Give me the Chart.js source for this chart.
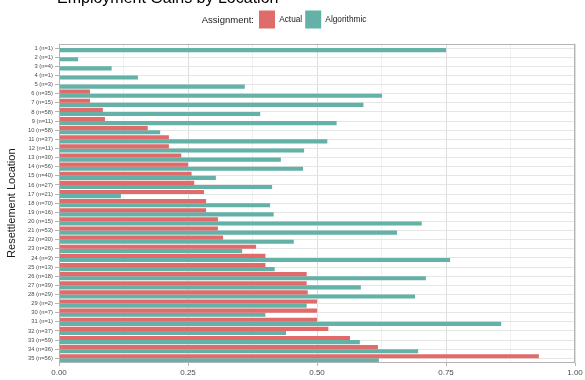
<!DOCTYPE html>
<html>
<head>
<meta charset="utf-8">
<script src="https://cdn.jsdelivr.net/npm/chart.js@4.4.0/dist/chart.umd.min.js"></script>
<style>
  body { margin: 0; background: #fff; }
  #wrap { width: 585px; height: 380px; }
</style>
</head>
<body>
<div id="wrap"><canvas id="myChart" width="585" height="380"></canvas></div>
<script>
// location labels (top to bottom)
const locations = [
  "1 (n=1)", "2 (n=1)", "3 (n=4)", "4 (n=1)", "5 (n=3)", "6 (n=35)", "7 (n=15)",
  "8 (n=58)", "9 (n=11)", "10 (n=58)", "11 (n=37)", "12 (n=11)", "13 (n=30)",
  "14 (n=56)", "15 (n=40)", "16 (n=27)", "17 (n=21)", "18 (n=70)", "19 (n=16)",
  "20 (n=15)", "21 (n=53)", "22 (n=30)", "23 (n=26)", "24 (n=3)", "25 (n=13)",
  "26 (n=18)", "27 (n=39)", "28 (n=29)", "29 (n=2)", "30 (n=7)", "31 (n=1)",
  "32 (n=37)", "33 (n=59)", "34 (n=36)", "35 (n=56)"
];
const actual = [
  0, 0, 0, 0, 0, 0.06, 0.06, 0.085, 0.089, 0.172, 0.213, 0.213, 0.237, 0.25,
  0.257, 0.262, 0.281, 0.285, 0.285, 0.308, 0.308, 0.318, 0.382, 0.40, 0.40,
  0.48, 0.48, 0.482, 0.50, 0.50, 0.50, 0.522, 0.564, 0.618, 0.93
];
const algorithmic = [
  0.75, 0.037, 0.102, 0.153, 0.36, 0.626, 0.59, 0.39, 0.538, 0.196, 0.52, 0.475,
  0.43, 0.473, 0.304, 0.413, 0.12, 0.409, 0.416, 0.703, 0.655, 0.455, 0.355,
  0.758, 0.418, 0.711, 0.585, 0.69, 0.48, 0.40, 0.857, 0.44, 0.583, 0.696, 0.62
];
const xTicks = [0, 0.25, 0.5, 0.75, 1];

const FONT = "'Liberation Sans', Arial, Helvetica, sans-serif";

// title (partly clipped at top), legend prefix, and panel border
const extras = {
  id: "extras",
  afterLayout(chart) {
    const lg = chart.legend;
    if (!lg || !lg.lineWidths) return;
    const pad = lg.options.labels.padding;
    const cx = (lg.left + pad + lg.right - lg.lineWidths[0]) / 2;
    const shift = 259 - cx;
    lg.left += shift;
    lg.right += shift;
    lg.top -= 5;
    lg.bottom -= 5;
  },
  afterDraw(chart) {
    const ctx = chart.ctx;
    const a = chart.chartArea;
    ctx.save();
    ctx.fillStyle = "#000";
    ctx.font = "16px " + FONT;
    ctx.textAlign = "left";
    ctx.textBaseline = "alphabetic";
    ctx.fillText("Employment Gains by Location", 57, 3);

    const lg = chart.legend;
    if (lg && lg.legendHitBoxes && lg.legendHitBoxes.length) {
      const pad = lg.options.labels.padding;
      const firstX = (lg.left + pad + lg.right - lg.lineWidths[0]) / 2;
      ctx.font = "9.5px " + FONT;
      ctx.textAlign = "right";
      ctx.textBaseline = "middle";
      ctx.fillStyle = "#1a1a1a";
      ctx.fillText("Assignment:", firstX - 5, lg.top + pad + 9.5);
    }

    ctx.strokeStyle = "#B3B3B3";
    ctx.lineWidth = 1;
    ctx.strokeRect(Math.round(a.left) + 0.5, Math.round(a.top) + 0.5,
      Math.round(a.right - a.left) - 1, Math.round(a.bottom - a.top) - 1);
    ctx.restore();
  }
};

const ctx = document.getElementById("myChart");

new Chart(ctx, {
  type: "bar",
  data: {
    labels: locations,
    datasets: [
      {
        label: "Actual",
        data: actual,
        backgroundColor: "#E06B6B",
        borderWidth: 0,
      },
      {
        label: "Algorithmic",
        data: algorithmic,
        backgroundColor: "#63B1A7",
        borderWidth: 0,
      },
    ],
  },
  options: {
    indexAxis: "y",
    responsive: false,
    animation: false,
    categoryPercentage: 0.9,
    barPercentage: 1.0,
    layout: { padding: { top: 12.5, left: 0, right: 10, bottom: 0.5 } },
    plugins: {
      tooltip: { enabled: false },
      legend: {
        position: "top",
        align: "center",
        labels: {
          boxWidth: 16,
          boxHeight: 18,
          padding: 3,
          color: "#1a1a1a",
          font: { family: FONT, size: 8.3 },
        },
      },
    },
    scales: {
      x: {
        min: 0,
        max: 1,
        afterBuildTicks: (s) => {
          const t = [];
          for (let i = 0; i <= 8; i++) t.push({ value: i * 0.125 });
          s.ticks = t;
        },
        ticks: {
          autoSkip: false,
          maxRotation: 0,
          padding: 2,
          color: "#4D4D4D",
          font: { family: FONT, size: 8 },
          callback: (v) => (xTicks.includes(v) ? v.toFixed(2) : ""),
        },
        grid: {
          color: (c) => (c.tick && xTicks.includes(c.tick.value) ? "#DEDEDE" : "#F0F0F0"),
          tickColor: (c) => (c.tick && xTicks.includes(c.tick.value) ? "#B3B3B3" : "rgba(0,0,0,0)"),
          tickLength: 3,
          lineWidth: 1,
        },
        border: { display: false },
      },
      y: {
        afterFit: (s) => { s.width = 59; },
        ticks: {
          autoSkip: false,
          padding: 2,
          color: "#4D4D4D",
          font: { family: FONT, size: 5.8 },
        },
        grid: {
          offset: false,
          color: "#E6E6E6",
          tickColor: "#B3B3B3",
          tickLength: 4,
          lineWidth: 1,
        },
        border: { display: false },
        title: {
          display: true,
          text: "Resettlement Location",
          color: "#1a1a1a",
          font: { family: FONT, size: 11 },
          padding: { top: 5, bottom: 0 },
        },
      },
    },
  },
  plugins: [extras],
});
</script>
</body>
</html>
